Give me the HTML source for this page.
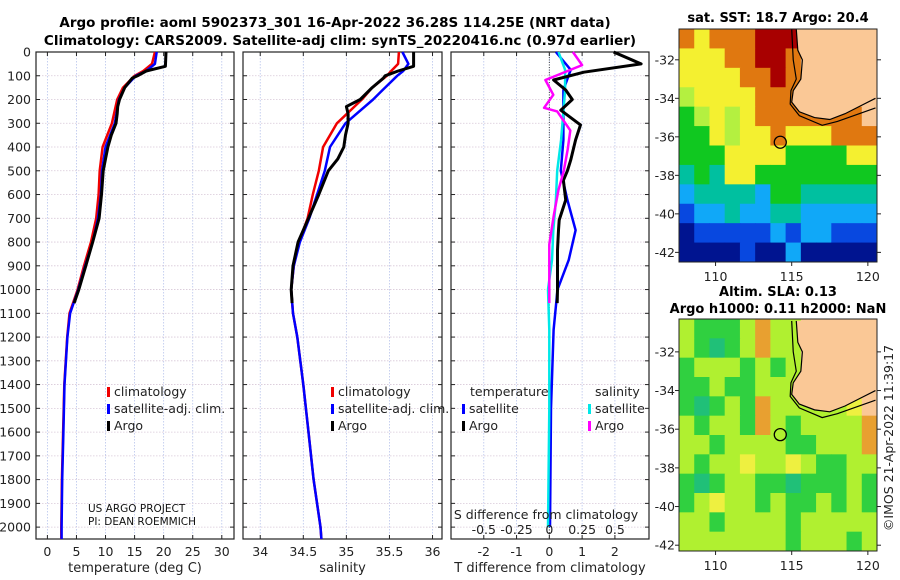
<!DOCTYPE html>
<html><head><meta charset="utf-8"><style>
html,body{margin:0;padding:0;background:#fff;}
svg{display:block;font-family:"DejaVu Sans","Liberation Sans",sans-serif;}
</style></head><body>
<svg id="fig" width="900" height="580" viewBox="0 0 900 580" xmlns="http://www.w3.org/2000/svg">
<text x="335" y="27" text-anchor="middle" font-size="13.5" font-weight="bold">Argo profile: aoml 5902373_301 16-Apr-2022 36.28S 114.25E (NRT data)</text>
<text x="340" y="45" text-anchor="middle" font-size="13.5" font-weight="bold">Climatology: CARS2009. Satellite-adj clim: synTS_20220416.nc (0.97d earlier)</text>
<text x="778" y="22" text-anchor="middle" font-size="13" font-weight="bold">sat. SST: 18.7 Argo: 20.4</text>
<text x="778" y="296" text-anchor="middle" font-size="13" font-weight="bold">Altim. SLA: 0.13</text>
<text x="778" y="313" text-anchor="middle" font-size="13" font-weight="bold">Argo h1000: 0.11 h2000: NaN</text>
<text transform="translate(893,438) rotate(-90)" text-anchor="middle" font-size="12.5" fill="#222">©IMOS 21-Apr-2022 11:39:17</text>
</svg>
<script>
// ---------- data ----------
const depthTicks=[0,100,200,300,400,500,600,700,800,900,1000,1100,1200,1300,1400,1500,1600,1700,1800,1900,2000];
const climDepth=[0,50,80,100,150,200,300,400,500,600,700,800,900,1000,1100,1200,1400,1600,1800,2000,2050];
const tempClim=[18.5,18.0,16.5,15.0,13.0,12.0,11.1,9.5,9.0,8.8,8.4,7.5,6.3,5.2,3.8,3.4,2.9,2.7,2.5,2.4,2.4];
const tempSat=[18.8,18.5,17.0,15.2,13.3,12.3,11.6,10.0,9.4,9.2,8.7,7.8,6.5,5.3,3.9,3.45,2.95,2.75,2.55,2.45,2.45];
const salClim=[35.61,35.6,35.52,35.47,35.3,35.18,34.89,34.73,34.68,34.61,34.55,34.45,34.39,34.36,34.38,34.43,34.5,34.56,34.62,34.70,34.71];
const salSat=[35.65,35.72,35.66,35.59,35.45,35.31,34.99,34.81,34.75,34.66,34.57,34.46,34.39,34.36,34.38,34.43,34.5,34.56,34.62,34.70,34.71];
const argoDepth=[0,60,80,100,110,150,200,230,260,300,350,400,450,500,600,700,800,900,1000,1057];
const tempArgo=[20.4,20.3,17.0,15.5,14.6,13.3,12.4,12.1,12.0,11.8,11.0,10.4,10.0,9.6,9.3,8.9,7.8,6.6,5.4,4.6];
const salArgo=[35.78,35.78,35.6,35.45,35.43,35.3,35.16,35.0,35.02,35.02,34.99,34.97,34.9,34.79,34.68,34.56,34.44,34.38,34.36,34.37];
const dDepthT=[0,50,85,118,160,200,245,307,370,455,500,540,623,707,750,834,876,1000,1057];
const dTArgo=[1.96,2.8,1.05,0.13,0.5,0.7,0.35,0.95,0.8,0.65,0.55,0.43,0.5,0.3,0.28,0.25,0.25,0.25,0.24];
const dDepthSat=[0,75,160,370,500,623,750,876,1000,1170,1500,2000];
const dTSat=[0.2,0.65,0.43,0.43,0.35,0.55,0.8,0.59,0.25,0.13,0.05,0.02];
const dSSat=[0.07,0.12,0.12,0.09,0.06,0.05,0.03,0.02,-0.01,0,0,-0.01];
const dDepthS=[0,55,118,180,235,250,330,410,500,580,685,810,1000,1057];
const dSArgo=[0.18,0.25,-0.03,0.03,-0.04,0.06,0.16,0.14,0.11,0.07,0.035,0,0,0];
const tTicks=[0,5,10,15,20,25,30];
const sTicks=[34,34.5,35,35.5,36];
const dTTicks=[-2,-1,0,1,2];
const dSTicks=[-0.5,-0.25,0,0.25,0.5];
const lonTicks=[110,115,120];
const latTicks=[-32,-34,-36,-38,-40,-42];
const sstGrid=["OYOOORRRSSSSS","YYYOORROSSSSS","YYYYOOROSSSSS","LYYYYOOOSSSSS","GLYLYOOOOOOOS","GGYLYYOYYYOOO","GGGYYYYGGGGYY","TGTYYGGGGGGGG","CTTTTCGGTTTTT","BCCTCCTTCCCCC","NBBBBBCBCCBBB","NNNNBNNCNNNNN"];
const slaGrid=["LGGGLOLLSSSSS","LGTGLOLLSSSSS","GLLLGLGLSSSSS","GGLGGLLLSSSSS","GTGLGOLLLLLYS","LGLLGOLGLLLLO","LLGLLLLGGLLLO","LGLLYLLYLGGLL","GTGLLGGTGGGLG","GLYLLGLGGLGLG","LLGLLLLGLLLLL","LLLLLLLGLLLGL"];
const coastLon=[115.3,115.4,115.7,115.6,115.1,115.0,115.5,116.5,117.5,118.5,119.5,120.5];
const coastLat=[-30.4,-31.5,-32.0,-33.0,-33.6,-34.2,-34.7,-35.0,-35.1,-34.8,-34.4,-34.0];
const isoLon=[115.0,115.1,115.3,114.95,114.9,115.5,117.0,118.0,120.5];
const isoLat=[-30.4,-32.0,-33.0,-33.6,-34.3,-34.9,-35.4,-35.2,-34.5];
const argoLon=[114.25], argoLat=[-36.28];

// ---------- helpers ----------
const svg=document.getElementById('fig');
const NS='http://www.w3.org/2000/svg';
function mk(tag,attrs,parent){const e=document.createElementNS(NS,tag);for(const k in attrs)e.setAttribute(k,attrs[k]);(parent||svg).appendChild(e);return e;}
const Y0=52, Y1=539;
const yD=d=>Y0+(d/2050)*(Y1-Y0);
const p1={x0:36,x1:234,v0:-1.96,v1:32.1};
const p2={x0:243,x1:442,v0:33.8,v1:36.11};
const p3={x0:451,x1:649,v0:-3,v1:3.04};
const sx=(p,v)=>p.x0+(v-p.v0)/(p.v1-p.v0)*(p.x1-p.x0);
const sS=v=>sx(p3,v*4);

function panel(p,name,ticks,fmt,xlabel,showY){
  const g=mk('g',{});
  
  
  ticks.forEach(t=>{const x=sx(p,t);mk('line',{x1:x,x2:x,y1:Y0,y2:Y1,stroke:'#b8c4ec','stroke-width':0.8,'stroke-dasharray':'1.5,1.5'},g);
    const tx=mk('text',{x:x,y:556,'text-anchor':'middle','font-size':12.5,fill:'#222'},g);tx.textContent=fmt(t);
    
    mk('line',{x1:x,x2:x,y1:Y1,y2:Y1-4,stroke:'#222'},g);mk('line',{x1:x,x2:x,y1:Y0,y2:Y0+4,stroke:'#222'},g);});
  depthTicks.forEach(d=>{const y=yD(d);mk('line',{x1:p.x0,x2:p.x1,y1:y,y2:y,stroke:'#d8c8d8','stroke-width':0.8,'stroke-dasharray':'1.5,1.5'},g);
    mk('line',{x1:p.x0,x2:p.x0+4,y1:y,y2:y,stroke:'#222'},g);mk('line',{x1:p.x1,x2:p.x1-4,y1:y,y2:y,stroke:'#222'},g);
    if(showY){const t=mk('text',{x:31,y:y+4.5,'text-anchor':'end','font-size':12.5,fill:'#222'},g);t.textContent=d;
      }});
  const r=mk('rect',{x:p.x0,y:Y0,width:p.x1-p.x0,height:Y1-Y0,fill:'none',stroke:'#222','stroke-width':1.2},g);
  const xl=mk('text',{x:(p.x0+p.x1)/2,y:572,'text-anchor':'middle','font-size':13,fill:'#222'},g);xl.textContent=xlabel;
  
  return g;
}
function line(xs,ds,fx,color,w,name){
  const pts=xs.map((v,i)=>fx(v).toFixed(1)+','+yD(ds[i]).toFixed(1)).join(' ');
  const e=mk('polyline',{points:pts,fill:'none',stroke:color,'stroke-width':w,'stroke-linejoin':'round'});
  
  
}
function legend(x,y,items){
  items.forEach((it,i)=>{const yy=y+i*17;mk('rect',{x:x,y:yy-9,width:3,height:10,fill:it[1]});
    const t=mk('text',{x:x+7,y:yy,'font-size':12.5,fill:'#222'});t.textContent=it[0];
    });
}

// panel 1
panel(p1,'temperature-panel',tTicks,String,'temperature (deg C)',true);
line(tempClim,climDepth,v=>sx(p1,v),'#f00000',2.5,'temp-climatology-line');
line(tempSat,climDepth,v=>sx(p1,v),'#0000ff',2.5,'temp-satellite-line');
line(tempArgo,argoDepth,v=>sx(p1,v),'#000',3,'temp-argo-line');
legend(107,396,[['climatology','#f00000'],['satellite-adj. clim.','#0000ff'],['Argo','#000']]);
[['US ARGO PROJECT',512],['PI: DEAN ROEMMICH',525]].forEach(a=>{const t=mk('text',{x:88,y:a[1],'font-size':10.5,fill:'#111'});t.textContent=a[0];
  });

// panel 2
panel(p2,'salinity-panel',sTicks,String,'salinity',false);
line(salClim,climDepth,v=>sx(p2,v),'#f00000',2.5,'sal-climatology-line');
line(salSat,climDepth,v=>sx(p2,v),'#0000ff',2.5,'sal-satellite-line');
line(salArgo,argoDepth,v=>sx(p2,v),'#000',3,'sal-argo-line');
legend(331,396,[['climatology','#f00000'],['satellite-adj. clim.','#0000ff'],['Argo','#000']]);

// panel 3
panel(p3,'difference-panel',dTTicks,String,'T difference from climatology',false);
mk('line',{x1:sx(p3,0),x2:sx(p3,0),y1:Y0,y2:Y1,stroke:'#444','stroke-width':1,'stroke-dasharray':'1,1.5'});
line(dTSat,dDepthSat,v=>sx(p3,v),'#0000ff',2.5,'dT-satellite-line');
line(dSSat,dDepthSat,sS,'#00e8e8',2.5,'dS-satellite-line');
line(dTArgo,dDepthT,v=>sx(p3,v),'#000',3,'dT-argo-line');
line(dSArgo,dDepthS,sS,'#ff00ff',2.5,'dS-argo-line');
{const t=mk('text',{x:470,y:396,'font-size':12.5,fill:'#222'});t.textContent='temperature';
 const t2=mk('text',{x:595,y:396,'font-size':12.5,fill:'#222'});t2.textContent='salinity';}
legend(462,413,[['satellite','#0000ff'],['Argo','#000']]);
legend(588,413,[['satellite','#00e8e8'],['Argo','#ff00ff']]);
{const t=mk('text',{x:546,y:519,'text-anchor':'middle','font-size':12.5,fill:'#222'});t.textContent='S difference from climatology';
 }
dSTicks.forEach(v=>{const t=mk('text',{x:sS(v),y:534,'text-anchor':'middle','font-size':12.5,fill:'#222'});t.textContent=String(v);
  });

// maps
const cols={R:'#a80000',O:'#e07810',Y:'#f4f030',L:'#b4f040',G:'#10c820',T:'#00c0a0',C:'#10a8f8',B:'#0848e0',N:'#001490',S:'#fac896'};
const slaCols={R:'#c04010',O:'#e8a030',Y:'#eef040',L:'#b0f030',G:'#30d040',T:'#20c078',C:'#10a8f8',B:'#0848e0',N:'#001490',S:'#fac896'};
function map(m,grid,pal,name){
  const g=mk('g',{});
  
  
  const lx=lon=>m.x0+(lon-m.lon0)*(m.x1-m.x0)/(m.lon1-m.lon0);
  const ly=lat=>m.y0+(m.lat0-lat)*(m.y1-m.y0)/(m.lat0-m.lat1);
  const cw=(m.x1-m.x0)/grid[0].length, ch=(m.y1-m.y0)/grid.length;
  grid.forEach((row,i)=>[...row].forEach((c,j)=>{mk('rect',{x:m.x0+j*cw,y:m.y0+i*ch,width:cw+0.5,height:ch+0.5,fill:pal[c]},g);}));
  // land polygon
  let pts=coastLon.map((v,i)=>lx(v)+','+ly(coastLat[i]));
  pts.push(lx(m.lon1)+','+ly(coastLat[coastLat.length-1]),lx(m.lon1)+','+m.y0);
  mk('polygon',{points:pts.join(' '),fill:'#fac896'},g);
  mk('polyline',{points:coastLon.map((v,i)=>lx(v)+','+ly(coastLat[i])).join(' '),fill:'none',stroke:'#000','stroke-width':1.2},g);
  mk('polyline',{points:isoLon.map((v,i)=>lx(v)+','+ly(isoLat[i])).join(' '),fill:'none',stroke:'#000','stroke-width':1.2},g);
  const c=mk('circle',{cx:lx(argoLon[0]),cy:ly(argoLat[0]),r:6,fill:'none',stroke:'#000','stroke-width':1.3},g);
  
  mk('rect',{x:m.x0,y:m.y0,width:m.x1-m.x0,height:m.y1-m.y0,fill:'none',stroke:'#222','stroke-width':1},g);
  lonTicks.forEach(l=>{const x=lx(l);mk('line',{x1:x,x2:x,y1:m.y1,y2:m.y1+4,stroke:'#222'},g);
    const t=mk('text',{x:x,y:m.y1+19,'text-anchor':'middle','font-size':12.5,fill:'#222'},g);t.textContent=l;
    });
  latTicks.forEach(l=>{const y=ly(l);mk('line',{x1:m.x1,x2:m.x1+4,y1:y,y2:y,stroke:'#222'},g);mk('line',{x1:m.x0-4,x2:m.x0,y1:y,y2:y,stroke:'#222'},g);
    const t=mk('text',{x:m.x0-4,y:y+4.5,'text-anchor':'end','font-size':12.5,fill:'#222'},g);t.textContent=l;
    });
}
map({x0:679,x1:877,y0:29,y1:262,lon0:107.6,lon1:120.6,lat0:-30.4,lat1:-42.5},sstGrid,cols,'sst-map');
map({x0:679,x1:877,y0:319,y1:551,lon0:107.6,lon1:120.6,lat0:-30.3,lat1:-42.3},slaGrid,slaCols,'sla-map');
</script>
</body></html>
